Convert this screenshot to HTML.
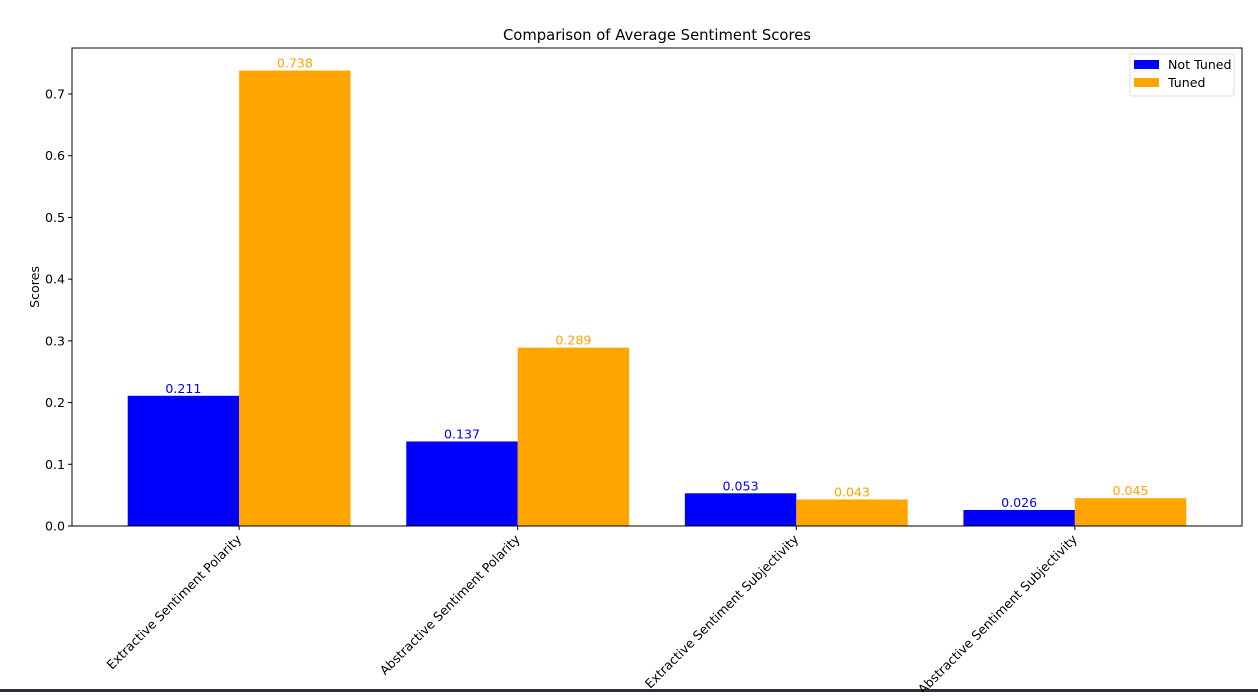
<!DOCTYPE html>
<html><head><meta charset="utf-8"><style>
body{margin:0;background:#fff;width:1258px;height:692px;overflow:hidden;font-family:"DejaVu Sans","Liberation Sans",sans-serif}
</style></head><body>
<svg id="chart" width="1258" height="692" xmlns="http://www.w3.org/2000/svg" font-family="DejaVu Sans, Liberation Sans, sans-serif">
<rect x="0" y="689" width="1258" height="3" fill="#2b2f36"/>
<text x="657" y="40" font-size="14.8" text-anchor="middle">Comparison of Average Sentiment Scores</text>
<text transform="translate(39,287) rotate(-90)" font-size="12.6" text-anchor="middle">Scores</text>
<g id="bars"></g>
<g id="yticks"></g>
<g id="xticks"></g>
<rect x="72" y="48" width="1170" height="478" fill="none" stroke="#000" stroke-width="1"/>
<g>
<rect x="1130" y="54" width="104" height="42" rx="2" fill="#fff" stroke="#ddd"/>
<g><rect x="1134" y="60" width="25" height="9" fill="#0000ff"/><text x="1168" y="69" font-size="12.6">Not Tuned</text></g>
<g><rect x="1134" y="78" width="25" height="9" fill="#ffa500"/><text x="1168" y="87" font-size="12.6">Tuned</text></g>
</g>
</svg>
<script>
const categories=["Extractive Sentiment Polarity","Abstractive Sentiment Polarity","Extractive Sentiment Subjectivity","Abstractive Sentiment Subjectivity"];
const notTuned=[0.211,0.137,0.053,0.026];
const tuned=[0.738,0.289,0.043,0.045];
const yTicks=[0.0,0.1,0.2,0.3,0.4,0.5,0.6,0.7];
const NS="http://www.w3.org/2000/svg";
const L=72,R=1242,T=48,B=526;
const yScale=v=>B-v*(B-94)/0.7;
const xScale=i=>L+(i+0.6)*(R-L)/4.2;
const bw=0.4*(R-L)/4.2;
function mk(tag,attrs,parent,txt){const e=document.createElementNS(NS,tag);for(const k in attrs)e.setAttribute(k,attrs[k]);if(txt!==undefined)e.textContent=txt;parent.appendChild(e);return e;}
const gb=document.getElementById('bars'),gy=document.getElementById('yticks'),gx=document.getElementById('xticks');
yTicks.forEach(v=>{const y=yScale(v);
 const t=mk('line',{x1:L-4,x2:L,y1:y,y2:y,stroke:'#000'},gy);
 
 
 const l=mk('text',{x:L-7,y:y+4.5,'font-size':12.6,'text-anchor':'end'},gy,v.toFixed(1));
 
 
});
categories.forEach((c,i)=>{const cx=xScale(i);
 [[notTuned[i],'#0000ff',cx-bw,'not-tuned'],[tuned[i],'#ffa500',cx,'tuned']].forEach(([v,col,x,nm])=>{
  const y=yScale(v);
  const r=mk('rect',{x:x,y:y,width:bw,height:B-y,fill:col},gb);
  
  
  const lb=mk('text',{x:x+bw/2,y:y-3,'font-size':12.6,'text-anchor':'middle',fill:col},gb,v.toFixed(3));
  
  
 });
 const tk=mk('line',{x1:cx,x2:cx,y1:B,y2:B+4,stroke:'#000'},gx);
 
 
 const tl=mk('text',{transform:`translate(${cx+3},${B+14}) rotate(-45)`,'font-size':12.6,'text-anchor':'end'},gx,c);
 
 
});
</script>
</body></html>
